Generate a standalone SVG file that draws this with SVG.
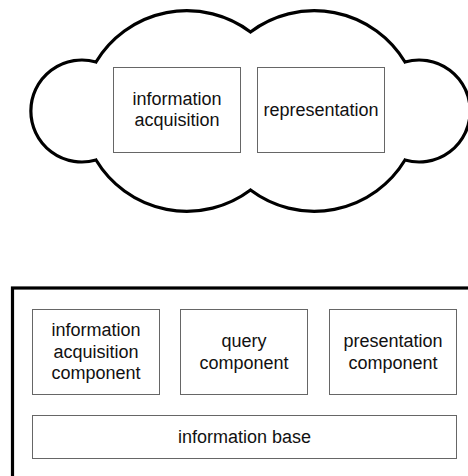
<svg xmlns="http://www.w3.org/2000/svg" width="468" height="476" viewBox="0 0 468 476">
  <style>
    .box { fill: #fff; stroke: #666; stroke-width: 1; }
    .frame { fill: none; stroke: #000; stroke-width: 3.2; }
    .label { font-family: "Liberation Sans", Arial, sans-serif; font-size: 18px; fill: #111; text-anchor: middle; }
  </style>
  <rect width="468" height="476" fill="#fff"/>

  <!-- cloud outline: two lobes on the sides, two bumps top and bottom -->
  <g id="cloud">
    <path class="frame" stroke-linejoin="miter" d="M96,62 A106,106 0 0 1 250.5,32 A106,106 0 0 1 405,62 A51,51 0 1 1 405,160 A106,106 0 0 1 250.5,190 A106,106 0 0 1 96,160 A51,51 0 1 1 96,62 Z"/>
  </g>

  <g id="information-acquisition">
    <rect class="box" x="113.5" y="67.5" width="127" height="85"/>
    <text class="label" x="177" y="104.5">information</text>
    <text class="label" x="177" y="126">acquisition</text>
  </g>

  <g id="representation">
    <rect class="box" x="257.5" y="67.5" width="127" height="85"/>
    <text class="label" x="321" y="115.5">representation</text>
  </g>

  <!-- system frame, open towards the right and bottom edges -->
  <g id="system">
    <rect class="frame" x="12.5" y="288" width="470" height="200" stroke-width="3.5"/>
  </g>

  <g id="information-acquisition-component">
    <rect class="box" x="32.5" y="309.5" width="127" height="85"/>
    <text class="label" x="96" y="336">information</text>
    <text class="label" x="96" y="357.5">acquisition</text>
    <text class="label" x="96" y="379">component</text>
  </g>

  <g id="query-component">
    <rect class="box" x="180.5" y="309.5" width="127" height="85"/>
    <text class="label" x="244" y="347">query</text>
    <text class="label" x="244" y="368.5">component</text>
  </g>

  <g id="presentation-component">
    <rect class="box" x="329.5" y="309.5" width="127" height="85"/>
    <text class="label" x="393" y="347">presentation</text>
    <text class="label" x="393" y="368.5">component</text>
  </g>

  <g id="information-base">
    <rect class="box" x="32.5" y="415.5" width="424" height="43"/>
    <text class="label" x="244.5" y="442.5">information base</text>
  </g>
</svg>
